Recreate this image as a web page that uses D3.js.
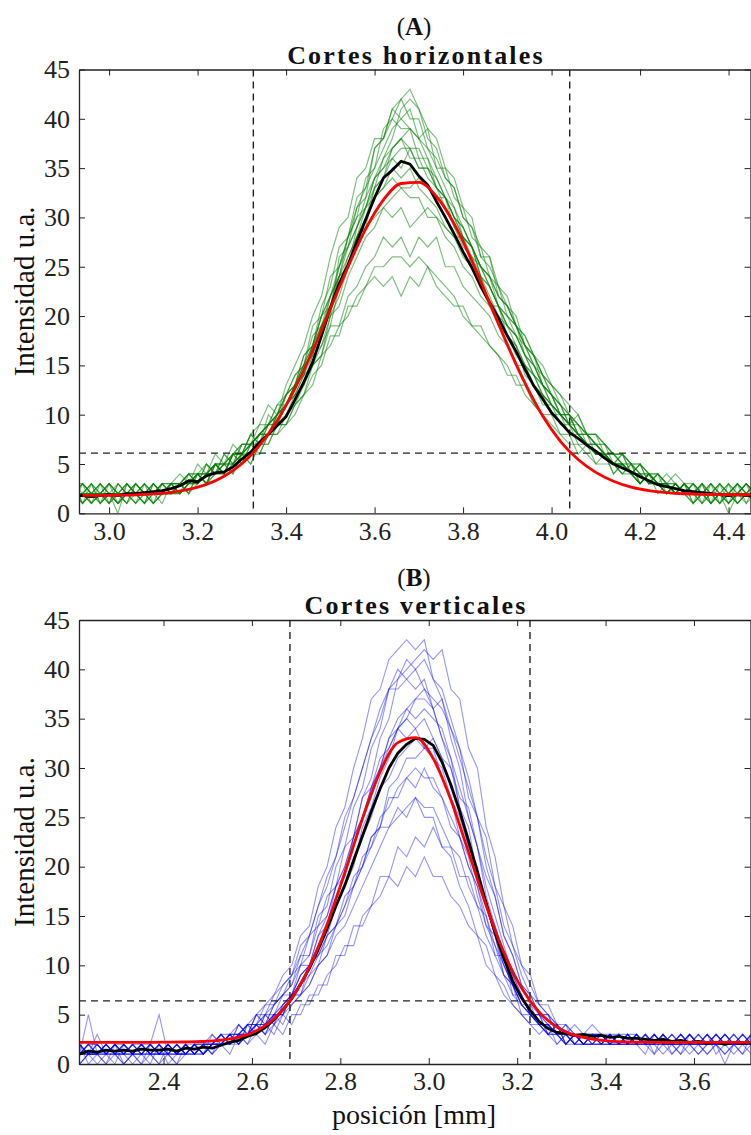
<!DOCTYPE html>
<html><head><meta charset="utf-8">
<script src="https://cdn.jsdelivr.net/npm/d3@7"></script>
<style>
body{margin:0;background:#fff}
svg{display:block}
</style>
</head><body>
<svg id="chart" width="751" height="1135"></svg>
<script>
// ---------------- DATA ----------------
const yTicks = [0,5,10,15,20,25,30,35,40,45];
const xTicksA = [3.0,3.2,3.4,3.6,3.8,4.0,4.2,4.4];
const xTicksB = [2.4,2.6,2.8,3.0,3.2,3.4,3.6];

// Panel A: sampled every 0.02 mm starting at 2.92 mm
const gridA = {start: 2.92, step: 0.02};
const greenTracesA = [
 [2, 2,1,3,2,2,1,3,2,3,2,2, 3,2,4,3,5,4,6,5,7,6,8,9,10,12,13,16,19,20,26,27,31,32,37,38,41,42,43,41,38,37,34,33,30,29,26,25,23,21,20,17,16,13,12,11,9,10,8,7,7,5,6,4,5,3,4,2,3,2, 2,3,2,1,2,3,2, 3],
 [3, 1,2,2,3,1,2,2,1,3,2,3, 2,3,3,4,4,5,5,6,6,8,8,10,11,12,14,15,18,22,24,28,30,34,35,39,40,42,40,40,37,35,33,31,29,27,25,23,21,19,18,16,14,13,11,10,9,8,8,6,6,5,5,4,3,4,3,3,2,2, 1,2,2,3,2,1,2, 2],
 [1, 3,2,1,2,0,3,2,2,1,3,2, 3,4,3,5,4,6,5,6,8,7,10,9,12,13,16,17,21,23,27,28,32,33,37,38,41,40,41,38,39,35,35,32,31,28,27,24,23,20,19,16,15,13,12,10,10,8,8,7,6,5,6,4,4,3,4,3,2,3, 3,2,1,2,2,2,3, 1],
 [2, 2,3,2,1,3,2,1,2,2,3,3, 4,3,5,4,6,5,7,6,8,9,11,10,13,15,17,20,22,26,29,30,34,35,38,38,40,39,39,36,36,33,32,29,28,25,24,21,21,18,17,14,13,11,11,9,9,7,7,6,6,4,5,4,3,4,2,3,2,3, 2,1,3,2,1,2,2, 2],
 [2, 1,2,3,2,1,2,3,2,2,2,3, 2,3,4,3,5,4,5,6,6,7,8,8,10,11,13,15,16,20,22,25,28,29,33,34,37,38,39,38,37,36,34,33,30,29,27,26,23,22,19,18,16,14,13,11,10,9,8,8,6,6,5,5,4,4,3,4,3,2, 2,2,1,3,2,3,1, 3],
 [3, 2,2,1,3,2,1,2,3,2,3,2, 3,4,3,5,4,4,6,6,7,8,9,10,11,13,14,17,19,21,25,27,29,32,34,36,37,38,37,37,35,34,32,30,28,27,24,23,21,19,18,16,14,12,11,10,9,8,7,7,6,5,5,5,4,3,3,3,2,3, 1,3,2,2,3,1,2, 2],
 [2, 3,1,2,2,3,2,2,1,2,3,3, 3,4,4,5,4,6,5,7,7,9,9,11,12,14,15,19,20,24,25,28,30,31,34,35,36,35,37,35,35,33,32,30,29,27,25,24,21,20,18,17,15,13,12,10,10,8,8,7,6,6,5,4,5,4,3,3,2,3, 2,2,3,1,2,2,3, 2],
 [1, 2,1,2,3,2,2,3,2,1,2,3, 3,3,4,4,5,5,6,6,7,8,9,9,11,13,14,17,20,21,24,26,28,31,32,33,34,33,33,34,33,32,32,30,28,27,25,24,22,21,19,17,16,14,12,11,10,9,8,7,7,6,6,5,5,4,4,3,3,2, 3,1,2,2,1,3,2, 1],
 [2, 1,3,2,2,1,3,2,2,3,2,2, 3,4,4,4,5,5,6,7,7,8,9,10,12,13,16,17,20,22,24,25,28,29,30,31,30,31,29,30,31,30,29,28,28,26,25,23,21,20,19,17,16,14,13,12,10,9,8,8,7,6,6,5,5,4,4,3,4,3, 2,3,1,2,2,1,2, 3],
 [2, 2,2,3,1,2,2,1,3,2,2,3, 2,3,4,3,4,5,4,6,5,7,7,9,9,11,12,15,16,19,19,22,23,25,26,28,27,28,26,28,27,28,25,25,23,22,21,20,18,17,15,15,13,12,10,10,8,8,7,6,6,5,5,4,5,3,4,3,2,3, 1,2,2,3,1,2,3, 2],
 [3, 3,2,2,1,2,3,2,1,3,2,3, 3,2,3,4,4,4,5,5,6,6,8,8,9,10,12,13,16,17,19,20,22,23,25,25,26,26,25,26,25,24,23,22,20,19,19,17,16,14,14,12,11,10,9,8,7,7,6,5,5,5,4,4,3,4,3,3,2,3, 2,2,3,2,0,2,2, 2],
 [2, 2,3,1,2,2,1,3,2,2,3,2, 3,3,4,3,4,5,4,6,5,7,7,9,9,11,12,14,15,18,18,21,21,23,24,23,24,22,24,23,25,23,22,21,21,19,18,17,16,15,13,13,11,10,10,8,8,6,7,5,6,4,5,4,3,4,3,2,3,2, 3,2,2,1,2,3,2, 3],
 [2, 3,2,2,1,3,2,2,3,1,2,2, 3,2,4,3,5,4,6,5,7,7,9,9,11,12,13,15,17,19,23,25,29,31,33,36,38,41,42,41,39,38,35,34,31,30,26,26,22,21,19,17,15,14,12,11,9,9,7,7,6,5,4,5,3,4,3,2,3,2, 2,3,1,2,3,2,2, 2],
 [1, 2,2,3,2,1,2,3,2,2,1,3, 2,3,3,4,5,4,6,6,7,8,8,10,12,13,15,17,20,22,25,28,31,33,35,37,39,40,39,38,36,34,32,31,28,27,24,23,21,19,18,16,15,13,12,10,10,8,7,7,6,6,5,4,4,3,3,2,3,2, 3,2,2,1,3,2,1, 2],
 [3, 1,2,2,3,2,2,1,2,3,2,2, 3,3,4,4,5,5,5,7,7,8,9,10,12,14,15,18,19,22,24,27,29,31,34,35,37,38,36,36,34,33,31,29,27,26,24,22,20,19,17,15,14,12,11,10,9,8,7,6,6,5,5,4,3,4,3,3,2,3, 2,1,2,3,2,2,3, 2],
 [2, 2,3,1,2,2,3,2,1,2,3,2, 2,4,3,4,5,5,6,6,8,7,9,10,11,13,15,16,19,21,23,26,28,30,33,34,36,37,37,35,35,33,32,30,29,27,25,24,22,21,19,18,16,15,13,12,11,10,8,8,7,6,6,5,4,4,3,3,3,2, 1,2,3,2,2,1,2, 3],
 [2, 3,2,2,2,1,2,2,3,2,2,3, 3,3,4,3,5,4,6,7,7,8,9,11,11,13,15,17,19,21,24,25,28,30,32,33,35,34,35,33,32,31,29,28,26,25,23,21,20,18,17,15,14,13,11,10,9,8,7,7,6,5,5,4,4,3,3,2,3,2, 2,3,2,2,1,2,3, 2],
 [1, 2,1,2,3,2,3,2,2,1,2,2, 2,3,3,4,4,5,5,6,7,8,8,10,11,12,14,16,17,20,21,24,26,28,29,31,32,33,32,32,30,30,28,27,25,24,22,21,19,18,16,15,13,12,11,10,9,8,7,6,6,5,4,5,3,4,3,2,3,2, 3,2,1,2,2,3,2, 1]
];
const meanA = [1.8, 1.8,1.7,1.8,1.9,1.8,2.0,2.0,2.1,2.2,2.3,2.5,
 2.8,3.3,3.2,3.8,4.1,4.2,4.7,5.5,6.2,7.2, 8.0,8.9,9.8,11.5,13.3,15.3,18.0,20.8,23.3,25.2,
 27.5,29.8,32.0,34.0,34.8,35.7,35.4,34.2,33.3,31.6, 30.0,28.3,26.5,24.9,23.0,21.4,19.8,18.0,16.4,14.6,
 12.9,11.6,10.2,9.2,8.2,7.6,6.9,6.3,5.6,5.0, 4.6,4.2,3.7,3.3,2.9,2.7,2.5,2.3,
 2.2,2.1,2.0,1.9,1.8,1.9,1.8, 1.8];
// fitted curve A, sampled every 0.04 mm from 2.94 mm
const fitGridA = {start: 2.94, step: 0.04};
const fitA = [1.81,1.81,1.83,1.87,1.96,2.12,2.42,2.93,3.76,5.03,
 6.89,9.42,12.65,16.48,20.72,24.99,28.84,31.79,33.44,33.56,
 32.12,29.35,25.60,21.36,17.10,13.19,9.86,7.30,5.45,4.15,
 3.25,2.65,2.30,2.10,1.98,1.92,1.90,1.88,1.88];
const vLinesA = [3.326, 4.041];
const hLineA = 6.1;

// Panel B: sampled every 0.02 mm starting at 2.21 mm
const gridB = {start: 2.21, step: 0.02};
const blueTracesB = [
 [1,2,1,0,2,1,2,1,1,2,0,1,2,1,2,2, 3,2,4,3,5,6,7,9,10,13,14,18,20,24,26,30,33,37,38,41,42,43,42,43,39,37,33,30,25,22,17,14,11,9,7,5,5,3,4,2,3,2, 3,2,3,2,2,3,2,3,2,2,1,3,2,2,3,2,2,3,2],
 [2,1,1,2,1,0,1,2,2,1,1,2,1,2,1,2, 2,3,2,4,3,5,4,6,7,9,10,13,14,18,20,23,27,29,33,35,39,40,41,42,41,42,38,37,32,30,24,21,16,14,10,9,6,6,4,4,3,3, 2,3,2,3,3,2,2,1,3,2,2,3,2,1,2,3,2,2,3],
 [0,1,2,1,1,2,1,1,0,2,1,1,2,1,2,1, 3,2,4,3,5,4,6,7,8,11,11,15,16,20,22,26,28,32,34,38,39,41,40,41,39,38,35,32,27,25,20,17,13,11,8,7,5,5,3,4,2,3, 3,3,2,2,3,2,3,2,2,3,2,2,1,2,3,2,3,2,2],
 [1,1,3,1,2,1,1,2,1,1,2,1,1,2,2,3, 2,3,3,4,5,5,7,8,9,12,13,16,19,21,25,27,30,33,35,38,38,39,38,39,36,33,31,26,24,19,16,13,10,8,6,5,4,4,3,2,3,2, 2,2,3,3,2,2,1,3,2,2,3,2,2,3,2,1,2,3,2],
 [2,0,1,1,2,2,1,0,1,2,1,2,1,1,2,2, 2,2,3,3,4,3,5,5,7,7,10,11,13,16,18,20,24,26,29,31,34,35,37,37,36,37,34,32,29,25,23,18,16,12,10,8,6,5,4,3,4,3, 4,3,2,3,2,3,2,2,3,1,2,2,3,2,2,3,2,2,1],
 [1,2,1,2,1,1,2,1,2,1,1,0,2,2,1,2, 3,3,2,4,4,5,5,7,7,10,10,13,15,18,19,23,25,28,30,33,34,36,35,36,35,34,31,28,25,22,18,15,12,9,8,6,5,4,4,3,3,2, 3,2,2,3,2,2,3,2,1,2,3,2,2,2,3,2,1,2,3],
 [1,1,2,1,0,2,1,2,1,1,2,1,2,1,1,2, 2,3,4,3,5,4,6,7,9,10,13,14,17,18,22,23,27,28,31,32,34,33,34,32,32,29,27,23,21,17,14,12,9,8,5,5,4,3,4,2,3,2, 2,3,3,2,2,3,2,2,3,2,2,1,2,3,2,2,3,2,2],
 [2,1,1,1,2,1,2,1,1,0,2,1,1,2,2,1, 2,3,2,3,4,3,5,4,6,7,8,10,11,14,15,18,20,23,24,28,29,31,31,32,33,31,30,27,26,22,19,17,13,11,8,7,5,5,3,4,3,3, 3,2,3,2,3,2,2,3,2,2,2,3,2,1,2,3,2,2,2],
 [1,5,1,2,1,1,0,1,2,1,1,2,1,2,1,2, 2,3,3,2,4,4,5,5,7,7,9,10,13,14,16,19,20,23,24,27,27,29,28,30,28,27,24,23,20,18,14,13,9,8,6,6,4,4,3,3,2,3, 2,3,2,2,3,3,2,2,2,3,2,2,3,2,2,0,2,3,2],
 [0,1,1,2,1,2,1,1,2,5,1,1,2,1,2,2, 3,2,3,4,3,5,4,6,7,8,10,11,13,14,17,18,21,22,24,24,26,25,27,25,25,22,21,18,16,13,12,9,8,6,5,4,4,3,2,3,2,2, 3,2,2,3,2,2,3,2,3,2,1,2,2,3,2,2,2,3,2],
 [1,2,2,1,1,0,1,2,1,1,2,1,1,2,1,3, 2,1,3,2,3,2,4,3,5,5,7,7,9,10,12,12,15,16,19,19,22,21,23,22,24,22,22,19,19,16,15,11,11,7,7,5,5,3,4,2,3,2, 2,2,3,2,2,3,2,3,2,2,3,2,2,2,3,2,2,1,3],
 [2,1,0,1,2,1,1,2,1,2,1,1,2,1,2,2, 2,3,2,3,3,4,3,5,4,6,6,8,8,11,11,14,14,16,17,19,18,20,19,21,19,19,17,16,14,13,10,9,7,6,5,4,3,4,2,3,2,2, 3,3,2,2,3,2,2,2,3,2,2,3,2,2,2,3,2,2,2],
 [1,1,2,1,2,0,1,1,2,1,2,1,1,2,1,2, 2,3,3,4,4,6,6,8,9,11,13,16,18,21,24,27,30,33,36,38,40,39,40,38,36,33,30,26,23,19,16,13,10,8,6,5,4,4,3,3,2,2, 2,3,2,2,3,2,2,3,2,1,2,3,2,2,2,3,2,2,3],
 [2,1,1,0,1,2,1,2,1,1,1,2,1,1,2,2, 2,2,3,3,4,4,5,6,7,9,10,12,14,17,19,22,25,27,30,33,35,36,37,38,37,36,34,31,28,25,21,18,14,12,9,7,6,5,4,3,3,2, 3,2,2,3,2,3,2,2,2,3,2,2,2,3,1,2,2,2,2],
 [1,2,1,1,2,1,1,0,2,1,2,1,2,1,1,2, 3,2,3,4,4,5,6,7,8,10,11,14,15,18,20,23,25,28,30,32,34,35,34,35,33,31,28,26,22,20,16,14,11,9,7,5,5,4,3,3,2,3, 2,2,3,2,3,2,2,3,2,2,3,2,1,2,2,2,3,2,2],
 [0,1,1,2,1,1,2,1,1,2,1,0,1,2,2,1, 2,3,2,3,4,4,5,6,7,9,10,12,14,16,18,21,23,25,28,29,31,32,33,32,31,30,27,25,22,19,16,13,11,8,7,5,4,4,3,2,3,2, 3,3,2,2,2,3,2,2,3,2,2,2,3,2,2,1,2,2,3],
 [1,2,2,1,1,2,1,1,2,1,2,1,1,2,1,2, 2,2,3,3,3,4,5,5,7,8,9,11,12,14,16,18,20,22,25,26,28,29,30,29,29,27,25,23,20,18,15,12,10,8,6,5,4,3,3,2,3,2, 2,2,2,3,2,2,3,1,2,2,3,2,2,3,2,2,2,1,2],
 [2,1,1,2,1,1,2,2,1,0,1,2,1,1,2,2, 3,2,2,3,4,3,4,5,6,7,8,10,11,13,14,16,18,20,22,24,25,26,27,26,26,24,22,21,18,16,13,11,9,7,6,5,4,3,3,2,2,3, 3,2,3,2,2,2,3,2,2,2,2,3,2,2,3,2,2,2,2]
];
const meanB = [1.0,1.3,1.2,1.4,1.3,1.4,1.3,1.5,1.4,1.4,1.5,1.3,1.6,1.5,1.7,1.6,
 1.9,2.2,2.4,2.8,3.1,3.7,4.5,5.5,6.6,8.1, 9.7,11.6,13.7,16.0,18.1,20.6,23.1,25.6,27.9,30.0,
 31.5,32.4,33.0,32.9,32.3,30.6,28.3,25.6,22.6,19.5, 16.3,13.3,10.7,8.4,6.7,5.4,4.3,3.6,3.2,3.1, 2.9,3.0,
 2.8,2.9,2.7,2.8,2.6,2.6,2.5,2.4,2.5,2.3,2.4,2.2,2.3,2.1,2.2,2.0,2.2,2.1,2.2];
// fitted curve B, sampled every 0.04 mm from 2.21 mm
const fitGridB = {start: 2.21, step: 0.04};
const fitB = [2.20,2.20,2.20,2.20,2.20,2.21,2.23,2.28,2.42,2.73,
 3.37,4.59,6.65,9.82,14.15,19.38,24.86,29.60,32.57,33.07,
 30.97,26.78,21.47,16.03,11.31,7.70,5.25,3.75,2.92,2.51,
 2.32,2.24,2.21,2.20,2.20,2.20,2.20,2.20,2.20];
const vLinesB = [2.686, 3.229];
const hLineB = 6.4;

// ---------------- DRAWING ----------------
const SERIF = '"Liberation Serif", "Times New Roman", Times, serif';
const svg = d3.select('#chart');

function drawPanel(cfg) {
  const x = d3.scaleLinear().domain(cfg.xDomain).range([cfg.left, cfg.right]);
  const y = d3.scaleLinear().domain([0, 45]).range([cfg.bottom, cfg.top]);
  const g = svg.append('g');

  g.append('clipPath').attr('id', cfg.id + 'clip')
    .append('rect').attr('x', cfg.left).attr('y', cfg.top)
    .attr('width', cfg.right - cfg.left).attr('height', cfg.bottom - cfg.top);
  const plot = g.append('g').attr('clip-path', `url(#${cfg.id}clip)`);

  const xs = n => d3.range(n).map(i => cfg.grid.start + i * cfg.grid.step);
  const xsFit = d3.range(cfg.fit.length).map(i => cfg.fitGrid.start + i * cfg.fitGrid.step);

  cfg.traces.forEach(t => {
    const xv = xs(t.length);
    plot.append('path')
      .attr('d', d3.line().x((d, i) => x(xv[i])).y(d => y(d))(t))
      .attr('fill', 'none').attr('stroke', cfg.color)
      .attr('stroke-width', cfg.width).attr('stroke-opacity', cfg.alpha);
  });

  // dashed guides
  cfg.vLines.forEach(v => plot.append('line')
    .attr('x1', x(v)).attr('x2', x(v)).attr('y1', cfg.top).attr('y2', cfg.bottom)
    .attr('stroke', '#222').attr('stroke-width', 1.4).attr('stroke-dasharray', '7,5'));
  plot.append('line')
    .attr('x1', cfg.left).attr('x2', cfg.right).attr('y1', y(cfg.hLine)).attr('y2', y(cfg.hLine))
    .attr('stroke', '#222').attr('stroke-width', 1.4).attr('stroke-dasharray', '7,5');

  const xm = xs(cfg.mean.length);
  plot.append('path')
    .attr('d', d3.line().x((d, i) => x(xm[i])).y(d => y(d))(cfg.mean))
    .attr('fill', 'none').attr('stroke', '#000').attr('stroke-width', 2.8)
    .attr('stroke-linejoin', 'round');

  plot.append('path')
    .attr('d', d3.line().curve(d3.curveMonotoneX).x((d, i) => x(xsFit[i])).y(d => y(d))(cfg.fit))
    .attr('fill', 'none').attr('stroke', '#ff0000').attr('stroke-width', 2.8);

  // axes
  const fmt = d3.format('.1f');
  const axStyle = sel => {
    sel.attr('font-family', SERIF).attr('font-size', 26);
    sel.selectAll('path.domain').attr('stroke', '#222').attr('stroke-width', 1.3);
    sel.selectAll('line').attr('stroke', '#222').attr('stroke-width', 1);
    sel.selectAll('text').attr('font-family', SERIF).style('font-family', SERIF)
      .style('font-size', '26px').attr('fill', '#222');
  };
  g.append('g').attr('transform', `translate(0,${cfg.bottom})`)
    .call(d3.axisBottom(x).tickValues(cfg.xTicks).tickFormat(fmt).tickSizeInner(-6).tickSizeOuter(0).tickPadding(8))
    .call(axStyle);
  g.append('g').attr('transform', `translate(0,${cfg.top})`)
    .call(d3.axisTop(x).tickValues(cfg.xTicks).tickFormat('').tickSizeInner(-6).tickSizeOuter(0))
    .call(axStyle);
  g.append('g').attr('transform', `translate(${cfg.left},0)`)
    .call(d3.axisLeft(y).tickValues(yTicks).tickSizeInner(-6).tickSizeOuter(0).tickPadding(9))
    .call(axStyle);
  g.append('g').attr('transform', `translate(${cfg.right - 0.5},0)`)
    .call(d3.axisRight(y).tickValues(yTicks).tickFormat('').tickSizeInner(-6).tickSizeOuter(0))
    .call(axStyle);

  // titles
  const t1 = g.append('text').attr('x', 414).attr('y', cfg.top - 34.5)
    .attr('text-anchor', 'middle').style('font-family', SERIF).style('font-size', '25px').attr('fill', '#111');
  t1.append('tspan').text('(');
  t1.append('tspan').attr('font-weight', 'bold').text(cfg.letter);
  t1.append('tspan').text(')');
  g.append('text').attr('x', 416).attr('y', cfg.top - 6)
    .attr('text-anchor', 'middle').attr('font-weight', 'bold')
    .style('font-family', SERIF).style('font-size', '26px').style('letter-spacing', '2.2px')
    .attr('fill', '#111').text(cfg.title);

  g.append('text')
    .attr('transform', `translate(34,${(cfg.top + cfg.bottom) / 2}) rotate(-90)`)
    .attr('text-anchor', 'middle').style('font-family', SERIF).style('font-size', '29px')
    .attr('fill', '#111').text('Intensidad u.a.');
}

drawPanel({
  id: 'A', left: 79, right: 751, top: 69.5, bottom: 513.3,
  xDomain: [2.932, 4.4507], xTicks: xTicksA,
  grid: gridA, traces: greenTracesA, color: '#008000', alpha: 0.5, width: 1.2,
  mean: meanA, fit: fitA, fitGrid: fitGridA,
  vLines: vLinesA, hLine: hLineA, letter: 'A', title: 'Cortes horizontales'
});
drawPanel({
  id: 'B', left: 79, right: 751, top: 620, bottom: 1064,
  xDomain: [2.2088, 3.729], xTicks: xTicksB,
  grid: gridB, traces: blueTracesB, color: '#0000ff', alpha: 0.42, width: 1.1,
  mean: meanB, fit: fitB, fitGrid: fitGridB,
  vLines: vLinesB, hLine: hLineB, letter: 'B', title: 'Cortes verticales'
});

svg.append('text').attr('x', 414).attr('y', 1124).attr('text-anchor', 'middle')
  .style('font-family', SERIF).style('font-size', '28px').attr('fill', '#111').text('posición [mm]');
</script>
</body></html>
